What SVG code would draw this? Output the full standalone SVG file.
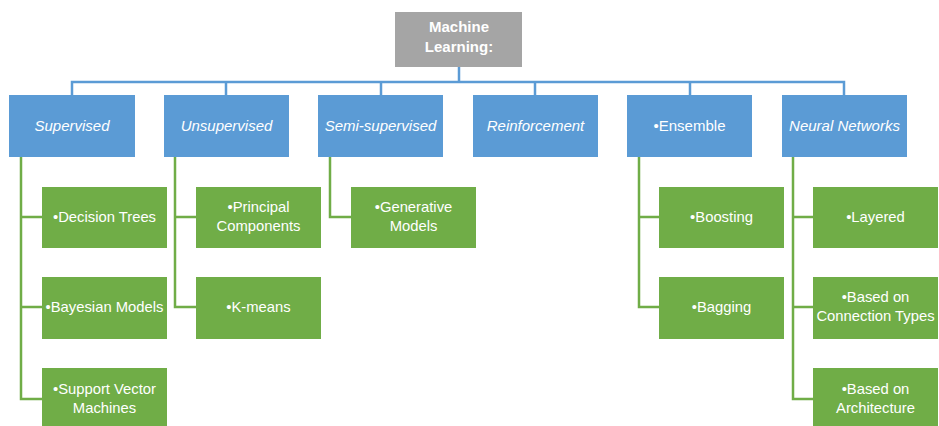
<svg xmlns="http://www.w3.org/2000/svg" width="939" height="426" viewBox="0 0 939 426">
<style>
.root{fill:#a5a5a5}
.cat{fill:#5b9bd5}
.leaf{fill:#70ad47}
.t{font-family:"Liberation Sans",Arial,sans-serif;fill:#ffffff;text-anchor:middle}
.rt{font-size:15px;font-weight:bold}
.ct{font-size:15px;font-style:italic}
.cn{font-size:15px}
.lt{font-size:14.8px}
.bl{fill:none;stroke:#5b9bd5;stroke-width:2.5}
.gl{fill:none;stroke:#70ad47;stroke-width:2.5}
</style>
<rect width="939" height="426" fill="#ffffff"/>
<g id="connectors">
<path class="bl" d="M459 67V82M72 95V82H844V95M226 82V95M381 82V95M535 82V95M690 82V95"/>
<path class="gl" d="M21 157V399H42M21 217H42M21 307H42"/>
<path class="gl" d="M175 157V307H196M175 217H196"/>
<path class="gl" d="M330 157V217H351"/>
<path class="gl" d="M639 157V307H659M639 217H659"/>
<path class="gl" d="M793 157V399H813M793 217H813M793 307H813"/>
</g>
<g id="ml"><rect class="root" x="395" y="12" width="127" height="55"/><text class="t rt" x="459" y="32">Machine</text><text class="t rt" x="459" y="52">Learning:</text></g>
<g id="supervised"><rect class="cat" x="9" y="95" width="126" height="62"/><text class="t ct" x="72" y="131">Supervised</text></g>
<g id="unsupervised"><rect class="cat" x="164" y="95" width="125" height="62"/><text class="t ct" x="226.5" y="131">Unsupervised</text></g>
<g id="semi"><rect class="cat" x="318" y="95" width="125" height="62"/><text class="t ct" x="380.5" y="131">Semi-supervised</text></g>
<g id="reinforcement"><rect class="cat" x="473" y="95" width="125" height="62"/><text class="t ct" x="535.5" y="131">Reinforcement</text></g>
<g id="ensemble"><rect class="cat" x="627" y="95" width="125" height="62"/><text class="t cn" x="689.5" y="131">•Ensemble</text></g>
<g id="neural"><rect class="cat" x="782" y="95" width="125" height="62"/><text class="t ct" x="844.5" y="131">Neural Networks</text></g>
<g id="dt"><rect class="leaf" x="42" y="187" width="125" height="61"/><text class="t lt" x="104.5" y="222">•Decision Trees</text></g>
<g id="bm"><rect class="leaf" x="42" y="277" width="125" height="62"/><text class="t lt" x="104.5" y="312">•Bayesian Models</text></g>
<g id="svm"><rect class="leaf" x="42" y="368" width="125" height="62"/><text class="t lt" x="104.5" y="394">•Support Vector</text><text class="t lt" x="104.5" y="413">Machines</text></g>
<g id="pc"><rect class="leaf" x="196" y="187" width="125" height="61"/><text class="t lt" x="258.5" y="212">•Principal</text><text class="t lt" x="258.5" y="231">Components</text></g>
<g id="km"><rect class="leaf" x="196" y="277" width="125" height="62"/><text class="t lt" x="258.5" y="312">•K-means</text></g>
<g id="gm"><rect class="leaf" x="351" y="187" width="125" height="61"/><text class="t lt" x="413.5" y="212">•Generative</text><text class="t lt" x="413.5" y="231">Models</text></g>
<g id="boost"><rect class="leaf" x="659" y="187" width="125" height="61"/><text class="t lt" x="721.5" y="222">•Boosting</text></g>
<g id="bag"><rect class="leaf" x="659" y="277" width="125" height="62"/><text class="t lt" x="721.5" y="312">•Bagging</text></g>
<g id="layered"><rect class="leaf" x="813" y="187" width="125" height="61"/><text class="t lt" x="875.5" y="222">•Layered</text></g>
<g id="conn"><rect class="leaf" x="813" y="277" width="125" height="62"/><text class="t lt" x="875.5" y="302">•Based on</text><text class="t lt" x="875.5" y="321">Connection Types</text></g>
<g id="arch"><rect class="leaf" x="813" y="368" width="125" height="62"/><text class="t lt" x="875.5" y="394">•Based on</text><text class="t lt" x="875.5" y="413">Architecture</text></g>
</svg>
